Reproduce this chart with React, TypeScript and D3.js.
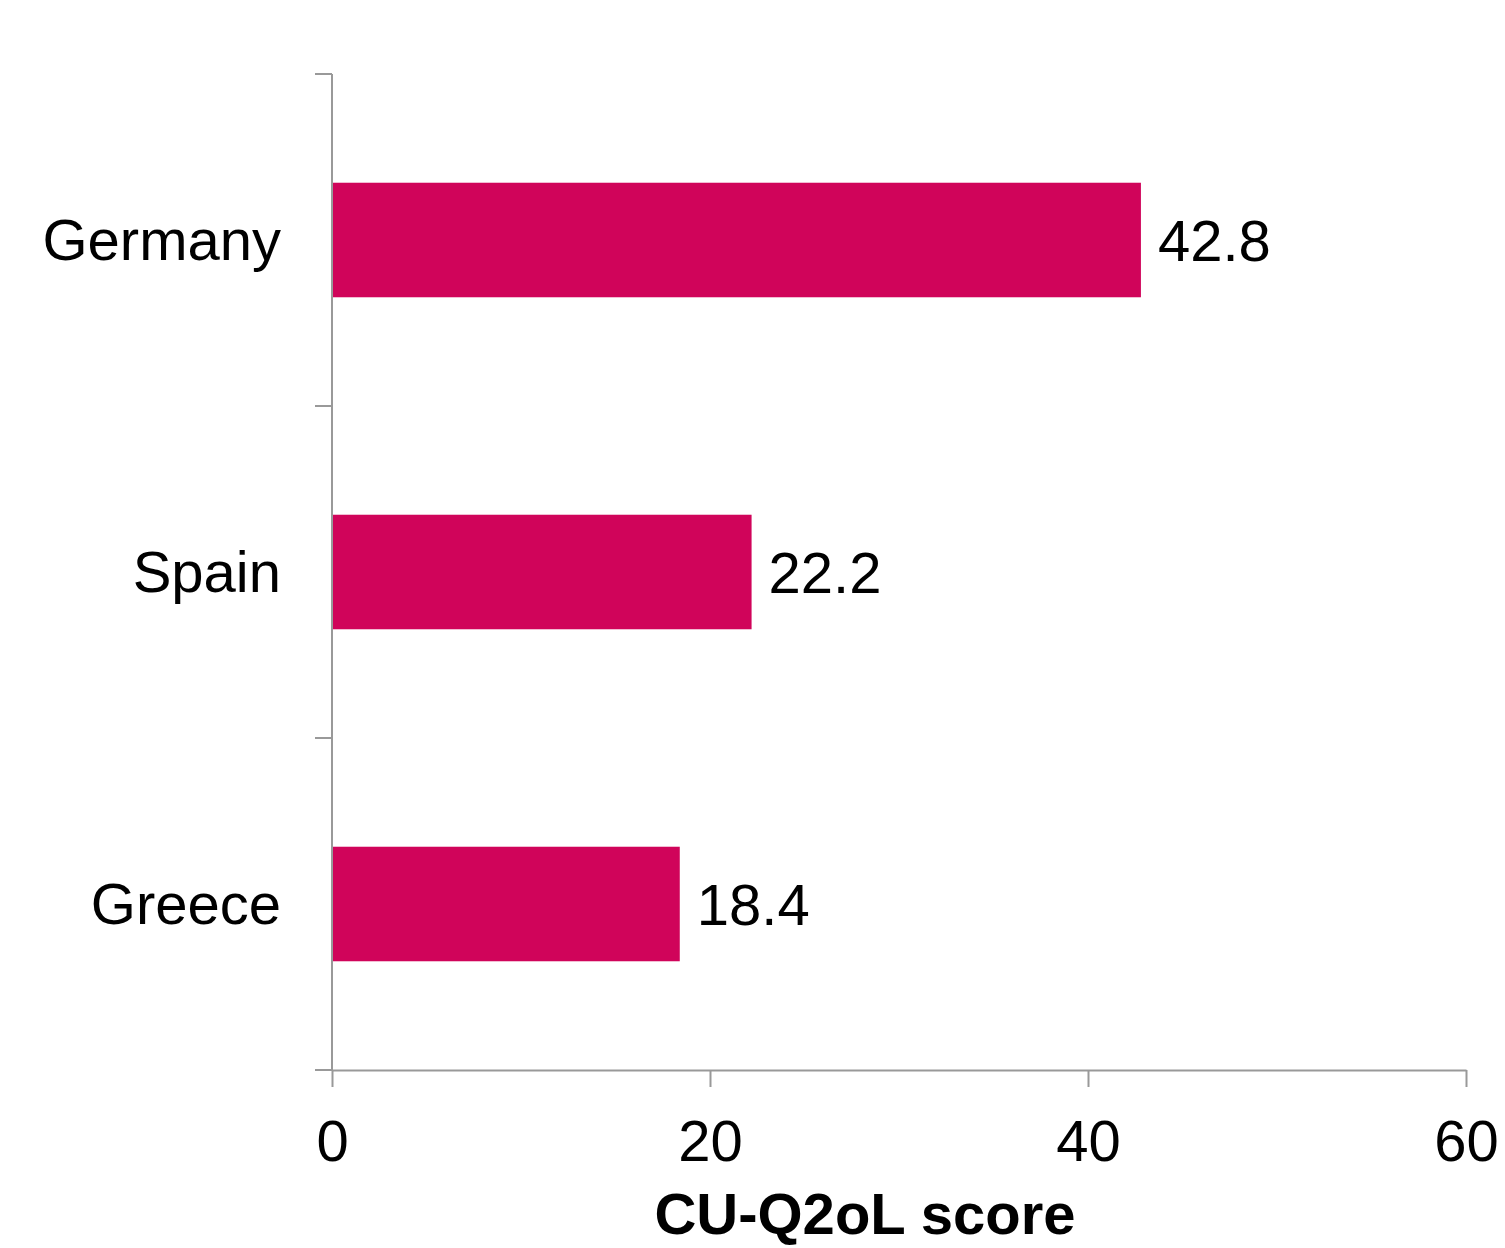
import React, { useEffect, useRef } from "react";
import * as d3 from "d3";

const categories = ["Germany", "Spain", "Greece"];
const scores = [42.8, 22.2, 18.4];
const xTicks = [0, 20, 40, 60];
const xTitle = "CU-Q2oL score";

const W = 1505;
const H = 1248;

const App = () => {
    const ref = useRef<SVGSVGElement>(null);

    useEffect(() => {
        const svg = d3.select(ref.current);
        svg.selectAll("*").remove();

        const left = 332, right = 1466, top = 74, bottom = 1070;
        const font = "'Liberation Sans', Arial, sans-serif";
        const axisColor = "#999";

        const x = d3.scaleLinear().domain([0, 60]).range([left, right]);
        const y = d3.scaleBand().domain(categories).range([top, bottom]).padding(0);
        const barH = y.bandwidth() * 0.345;

        // bars
        svg.selectAll("rect.bar")
            .data(categories)
            .enter()
            .append("rect")
            .attr("class", "bar")
            .attr("x", x(0))
            .attr("y", d => y(d)! + (y.bandwidth() - barH) / 2)
            .attr("width", (d, i) => x(scores[i]) - x(0))
            .attr("height", barH)
            .attr("fill", "#d0045a");

        // value labels
        svg.selectAll("text.val")
            .data(categories)
            .enter()
            .append("text")
            .attr("class", "val")
            .attr("x", (d, i) => x(scores[i]) + 17)
            .attr("y", d => y(d)! + y.bandwidth() / 2 + 21)
            .attr("font-family", font)
            .attr("font-size", 58)
            .attr("fill", "#000")
            .text((d, i) => scores[i].toFixed(1));

        // y axis line and ticks at band edges
        svg.append("line")
            .attr("x1", left).attr("x2", left)
            .attr("y1", top).attr("y2", bottom)
            .attr("stroke", axisColor).attr("stroke-width", 2);
        const edges = categories.map(c => y(c)!).concat([bottom]);
        svg.selectAll("line.ytick")
            .data(edges)
            .enter()
            .append("line")
            .attr("class", "ytick")
            .attr("x1", left - 17).attr("x2", left)
            .attr("y1", d => d).attr("y2", d => d)
            .attr("stroke", axisColor).attr("stroke-width", 2);

        // category labels
        svg.selectAll("text.cat")
            .data(categories)
            .enter()
            .append("text")
            .attr("class", "cat")
            .attr("x", 281)
            .attr("y", d => y(d)! + y.bandwidth() / 2 + 20)
            .attr("text-anchor", "end")
            .attr("font-family", font)
            .attr("font-size", 58)
            .attr("fill", "#000")
            .text(d => d);

        // x axis
        const xAxis = svg.append("g")
            .attr("transform", `translate(0,${bottom})`)
            .call(d3.axisBottom(x).tickValues(xTicks).tickSize(17).tickSizeOuter(0).tickPadding(33));
        xAxis.select(".domain").attr("stroke", axisColor).attr("stroke-width", 2);
        xAxis.selectAll(".tick line").attr("stroke", axisColor).attr("stroke-width", 2);
        xAxis.selectAll(".tick text")
            .attr("font-family", font)
            .attr("font-size", 58)
            .attr("fill", "#000");

        // x title (kept just inside the bottom edge)
        svg.append("text")
            .attr("x", 865)
            .attr("y", 1234)
            .attr("text-anchor", "middle")
            .attr("font-family", font)
            .attr("font-size", 58)
            .attr("font-weight", "bold")
            .attr("fill", "#000")
            .text(xTitle);
    }, []);

    return (
        <div style={{ position: "absolute", left: 0, top: 0 }}>
            <svg ref={ref} width={W} height={H} style={{ display: "block", background: "#fff" }}></svg>
        </div>
    );
};

export default App;
